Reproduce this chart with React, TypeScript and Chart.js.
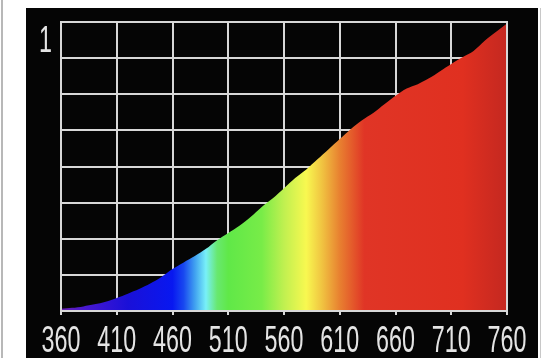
import React, { useEffect, useRef } from "react";
import { Chart, registerables } from "chart.js";

Chart.register(...registerables);

const wavelengths = [360, 370, 380, 390, 400, 410, 420, 430, 440, 450, 460, 470, 480, 490, 500, 510, 520, 530, 540, 550, 560, 570, 580, 590, 600, 610, 620, 630, 640, 650, 660, 670, 680, 690, 700, 710, 720, 730, 740, 750, 760];
const intensity = [0.008, 0.011, 0.016, 0.023, 0.032, 0.045, 0.06, 0.076, 0.095, 0.118, 0.145, 0.168, 0.19, 0.215, 0.245, 0.27, 0.295, 0.325, 0.36, 0.39, 0.425, 0.46, 0.49, 0.525, 0.56, 0.595, 0.63, 0.66, 0.685, 0.715, 0.745, 0.77, 0.785, 0.805, 0.83, 0.855, 0.878, 0.9, 0.935, 0.965, 0.995];
const xTicks = [360, 410, 460, 510, 560, 610, 660, 710, 760];
const yTicks = [0, 0.125, 0.25, 0.375, 0.5, 0.625, 0.75, 0.875, 1];
const yTopLabel = "1";

const spectrumStops: [number, string][] = [
  [360, "#6a20b0"],
  [380, "#4a18d0"],
  [420, "#1a10d8"],
  [460, "#0818f0"],
  [470, "#1848f0"],
  [480, "#40a0f0"],
  [490, "#78f0f8"],
  [500, "#68e870"],
  [510, "#60e848"],
  [540, "#78ec48"],
  [560, "#c0f050"],
  [580, "#f8f850"],
  [595, "#f0c040"],
  [610, "#e88030"],
  [632, "#e03526"],
  [720, "#e03020"],
  [760, "#c42820"],
];

const LABEL_FONT = "37px 'Liberation Sans', Arial, sans-serif";
const LABEL_COLOR = "#e4e4e4";
const SX = 0.63;

const frame = {
  id: "frame",
  afterDatasetsDraw(chart: any) {
    const { ctx, chartArea } = chart;
    ctx.save();
    ctx.strokeStyle = "#d8d8d8";
    ctx.lineWidth = 2;
    ctx.strokeRect(chartArea.left, chartArea.top, chartArea.right - chartArea.left, chartArea.bottom - chartArea.top);
    ctx.restore();
  },
};

// draws the scales' own tick labels in a condensed face
const narrowLabels = {
  id: "narrowLabels",
  afterDraw(chart: any) {
    const { ctx, scales, chartArea } = chart;
    ctx.save();
    ctx.font = LABEL_FONT;
    ctx.fillStyle = LABEL_COLOR;
    ctx.textBaseline = "alphabetic";
    const xs = scales.x;
    xs.ticks.forEach((t: any, i: number) => {
      const label = String(t.value);
      const px = xs.getPixelForTick(i);
      ctx.save();
      ctx.translate(px, chartArea.bottom + 41);
      ctx.scale(SX, 1);
      ctx.textAlign = "center";
      ctx.fillText(label, 0, 0);
      ctx.restore();
    });
    const ys = scales.y;
    ys.ticks.forEach((t: any, i: number) => {
      const label = t.label;
      if (!label) return;
      const py = ys.getPixelForTick(i);
      ctx.save();
      ctx.translate(chartArea.left - 9, py + 30);
      ctx.scale(SX, 1);
      ctx.textAlign = "right";
      ctx.fillText(label, 0, 0);
      ctx.restore();
    });
    ctx.restore();
  },
};

export default function App() {
  const ref = useRef<HTMLCanvasElement | null>(null);
  useEffect(() => {
    if (!ref.current) return;
    const chart = new Chart(ref.current, {
      type: "line",
      data: {
        datasets: [
          {
            data: wavelengths.map((w, i) => ({ x: w, y: intensity[i] })),
            borderWidth: 0,
            pointRadius: 0,
            fill: "origin",
            tension: 0.3,
            backgroundColor: (ctx: any) => {
              const c = ctx.chart;
              const area = c.chartArea;
              if (!area) return "#e03020";
              const xs = c.scales.x;
              const g = c.ctx.createLinearGradient(xs.getPixelForValue(360), 0, xs.getPixelForValue(760), 0);
              spectrumStops.forEach(([w, col]) => g.addColorStop((w - 360) / 400, col));
              return g;
            },
          },
        ],
      },
      options: {
        animation: false,
        responsive: false,
        devicePixelRatio: 1,
        layout: { padding: { top: 14, right: 31, left: 0, bottom: 0 } },
        plugins: { legend: { display: false }, tooltip: { enabled: false } },
        scales: {
          x: {
            type: "linear",
            min: 360,
            max: 760,
            afterBuildTicks: (s: any) => {
              s.ticks = xTicks.map((v) => ({ value: v }));
            },
            afterFit: (s: any) => {
              s.height = 47;
              s.paddingLeft = 0;
              s.paddingRight = 0;
            },
            grid: { color: "#d8d8d8", lineWidth: 2, tickLength: 4 },
            border: { display: false },
            ticks: {
              color: "rgba(0,0,0,0)",
              maxRotation: 0,
              autoSkip: false,
              font: { size: 12 },
              callback: (v: any) => String(v),
            },
          },
          y: {
            min: 0,
            max: 1,
            afterBuildTicks: (s: any) => {
              s.ticks = yTicks.map((v) => ({ value: v }));
            },
            afterFit: (s: any) => {
              s.width = 35;
              s.paddingTop = 0;
              s.paddingBottom = 0;
            },
            grid: { color: "#d8d8d8", lineWidth: 2, drawTicks: false },
            border: { display: false },
            ticks: {
              color: "rgba(0,0,0,0)",
              autoSkip: false,
              font: { size: 12 },
              callback: (v: any) => (v === 1 ? yTopLabel : ""),
            },
          },
        },
      },
      plugins: [frame, narrowLabels],
    } as any);
    return () => chart.destroy();
  }, []);

  return (
    <div style={{ position: "fixed", left: 0, top: 0, width: 551, height: 358, background: "#ffffff", overflow: "hidden" }}>
      <div style={{ position: "absolute", left: 1, top: 0, width: 2, height: 358, background: "#b8b8b8" }} />
      <div style={{ position: "absolute", left: 26, top: 8, width: 512, height: 350, background: "#050505" }}>
        <canvas ref={ref} width={512} height={350} style={{ display: "block" }} />
      </div>
      <div style={{ position: "absolute", left: 540, top: 8, width: 1, height: 350, background: "#c8c8c8" }} />
    </div>
  );
}
